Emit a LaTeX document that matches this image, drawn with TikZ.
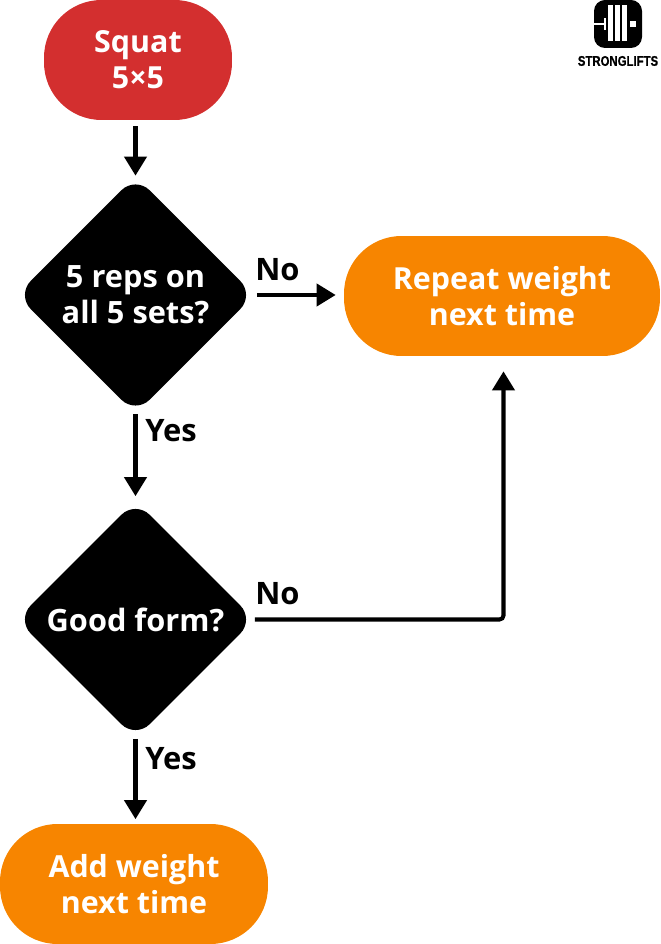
\documentclass[tikz,border=0pt]{standalone}
\usepackage{fontspec}
\setmainfont{Open Sans}
\newfontfamily\logofont{Liberation Sans}[FakeStretch=0.81,BoldFeatures={FakeBold=0.6}]
\usepackage{tikz}
\usetikzlibrary{shapes.geometric,arrows.meta}
\definecolor{S}{RGB}{211,47,47}
\definecolor{O}{RGB}{247,133,0}
\newcommand{\drawbar}[1]{\fill[white] (#1,939)--++(0,-36)--++(4.5,0)--++(0,36)--cycle;}
\tikzset{
    x=0.02cm,y=0.02cm,
    pill/.style={rounded corners=1.15cm,text=white,align=center,font=\fontsize{17.3}{20.4}\selectfont\bfseries,inner sep=0pt},
    ask/.style={diamond,fill=black,rounded corners=0.4cm,text=white,align=center,minimum size=4.76cm,aspect=1,inner sep=0pt,font=\fontsize{17.5}{20.4}\selectfont\bfseries},
    tag/.style={font=\fontsize{17.6}{20}\selectfont\bfseries,inner sep=0pt},
    flow/.style={line width=2.3pt,-{Triangle[width=0.44cm,length=0.38cm]}},
}
\begin{document}
\begin{tikzpicture}
\useasboundingbox (0,0) rectangle (660,944);
\node[pill,fill=S,minimum width=3.76cm,minimum height=2.4cm] (squat) at (138,884) {Squat\\5×5};
\node[ask] (reps) at (135.5,649) {5 reps on\\all 5 sets?};
\node[ask] (form) at (135.5,324.5) {Good form?};
\node[pill,fill=O,minimum width=6.32cm,minimum height=2.4cm] (repeat) at (502,648) {Repeat weight\\next time};
\node[pill,fill=O,minimum width=5.36cm,minimum height=2.4cm] (add) at (134,60) {Add weight\\next time};
\coordinate (corner) at ([xshift=0.03cm]repeat.south |- form.east);
\draw[flow,shorten <=0.12cm] (squat.south -| reps.north) -- (reps.north);
\draw[flow,shorten >=0.08cm] (reps.south) -- (form.north);
\draw[flow,shorten >=0.09cm] (form.south) -- (add.north -| form.south);
\draw[flow,shorten <=0.04cm,shorten >=0.16cm] (reps.east) -- (repeat.west |- reps.east);
\draw[flow,rounded corners=0.08cm,shorten >=0.3cm] (form.east) -- (corner) -- (corner |- repeat.south);
\node[tag] (no1) at (277.5,674.5) {No};
\node[tag] (yes1) at (171,513.5) {Yes};
\node[tag] (no2) at (277.5,350) {No};
\node[tag] (yes2) at (171,185.5) {Yes};
% logo
\fill[black,rounded corners=0.22cm] (594,896) rectangle (642,944);
\draw[white,line width=0.85pt] (594,920)--(604,920);
\fill[white] (604,914) rectangle (606,926);
\drawbar{608}\drawbar{615}\drawbar{622}
\fill[white] (630,917) rectangle (635.5,923);
\node[font=\logofont\fontsize{8}{9}\selectfont\bfseries,inner sep=0pt] (logo) at (618,883) {STRONGLIFTS};
\end{tikzpicture}
\end{document}
